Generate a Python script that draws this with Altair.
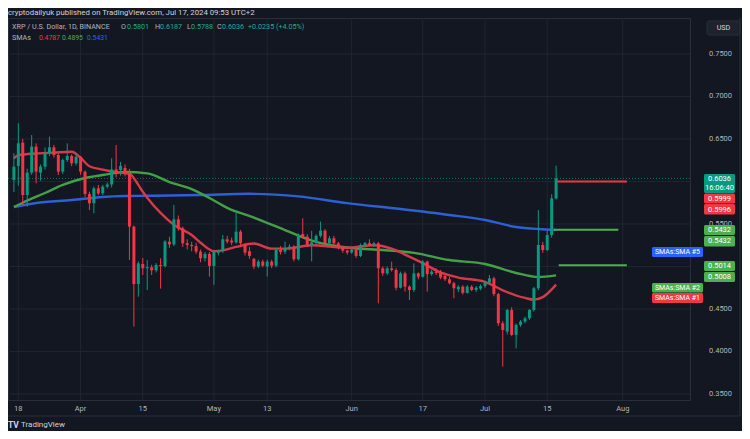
import altair as alt
import pandas as pd

# ---------------- data ----------------
dates = [d.strftime("%Y-%m-%d") for d in pd.date_range("2024-03-17", "2024-07-17", freq="D")]

opens = [0.6018, 0.6183, 0.6457, 0.5841, 0.6104, 0.6410, 0.6104, 0.6175, 0.6332, 0.6402,
         0.6312, 0.6116, 0.6253, 0.6300, 0.6214, 0.6292, 0.6116, 0.5853, 0.5743, 0.5920,
         0.5861, 0.5939, 0.5965, 0.6143, 0.6135, 0.6160, 0.6100, 0.5469, 0.4794, 0.5030,
         0.4979, 0.4992, 0.4955, 0.5018, 0.5005, 0.5293, 0.5260, 0.5555, 0.5449, 0.5273,
         0.5253, 0.5240, 0.5175, 0.5097, 0.5148, 0.5007, 0.5163, 0.5180, 0.5320, 0.5305,
         0.5283, 0.5410, 0.5260, 0.5180, 0.5090, 0.5000, 0.5058, 0.5000, 0.5058, 0.5010,
         0.5195, 0.5175, 0.5214, 0.5234, 0.5085, 0.5381, 0.5351, 0.5253, 0.5283, 0.5361,
         0.5422, 0.5273, 0.5332, 0.5273, 0.5226, 0.5187, 0.5165, 0.5200, 0.5124, 0.5253,
         0.5275, 0.5255, 0.5273, 0.4979, 0.4920, 0.4978, 0.4959, 0.4750, 0.4919, 0.4763,
         0.4723, 0.4919, 0.4880, 0.5057, 0.4910, 0.4940, 0.4925, 0.4889, 0.4850, 0.4803,
         0.4731, 0.4763, 0.4690, 0.4763, 0.4724, 0.4740, 0.4770, 0.4810, 0.4861, 0.4675,
         0.4332, 0.4234, 0.4489, 0.4195, 0.4313, 0.4352, 0.4391, 0.4489, 0.4744, 0.5253,
         0.5194, 0.5370, 0.5801]

highs = [0.6335, 0.6685, 0.6500, 0.6150, 0.6547, 0.6449, 0.6200, 0.6400, 0.6528, 0.6430,
         0.6330, 0.6270, 0.6449, 0.6320, 0.6320, 0.6300, 0.6130, 0.5880, 0.5940, 0.5960,
         0.5960, 0.5990, 0.6273, 0.6430, 0.6230, 0.6200, 0.6150, 0.5480, 0.5060, 0.5100,
         0.5077, 0.5020, 0.5040, 0.5097, 0.5310, 0.5350, 0.5724, 0.5600, 0.5470, 0.5320,
         0.5290, 0.5280, 0.5200, 0.5170, 0.5170, 0.5190, 0.5200, 0.5370, 0.5360, 0.5340,
         0.5665, 0.5430, 0.5270, 0.5230, 0.5100, 0.5080, 0.5080, 0.5080, 0.5080, 0.5220,
         0.5240, 0.5293, 0.5260, 0.5250, 0.5390, 0.5567, 0.5380, 0.5420, 0.5380, 0.5528,
         0.5440, 0.5360, 0.5360, 0.5290, 0.5240, 0.5200, 0.5220, 0.5215, 0.5270, 0.5290,
         0.5320, 0.5290, 0.5290, 0.5000, 0.5000, 0.5057, 0.4980, 0.4940, 0.4940, 0.4780,
         0.5037, 0.4930, 0.5076, 0.5070, 0.4960, 0.4980, 0.4959, 0.4900, 0.4880, 0.4820,
         0.4780, 0.4780, 0.4780, 0.4780, 0.4770, 0.4790, 0.4830, 0.4900, 0.4880, 0.4690,
         0.4360, 0.4500, 0.4520, 0.4330, 0.4370, 0.4410, 0.4500, 0.4760, 0.5665, 0.5290,
         0.5420, 0.5850, 0.6187]

lows = [0.5876, 0.5950, 0.5724, 0.5704, 0.6080, 0.5979, 0.6010, 0.6140, 0.6300, 0.6280,
        0.6076, 0.6090, 0.6230, 0.6180, 0.6190, 0.6080, 0.5820, 0.5665, 0.5626, 0.5840,
        0.5840, 0.5920, 0.5930, 0.6050, 0.6070, 0.6060, 0.5076, 0.4292, 0.4645, 0.4900,
        0.4724, 0.4900, 0.4930, 0.4740, 0.4990, 0.5220, 0.5240, 0.5420, 0.5230, 0.5200,
        0.5180, 0.5150, 0.5050, 0.5060, 0.4881, 0.4783, 0.5130, 0.5160, 0.5270, 0.5250,
        0.5270, 0.5240, 0.5130, 0.5090, 0.4970, 0.4980, 0.4990, 0.4881, 0.4980, 0.4990,
        0.5140, 0.5150, 0.5190, 0.5060, 0.5070, 0.5330, 0.5230, 0.5060, 0.5260, 0.5340,
        0.5250, 0.5250, 0.5250, 0.5200, 0.5160, 0.5140, 0.5150, 0.5100, 0.5110, 0.5230,
        0.5240, 0.5230, 0.4567, 0.4890, 0.4900, 0.4940, 0.4720, 0.4740, 0.4704, 0.4606,
        0.4700, 0.4850, 0.4870, 0.4704, 0.4890, 0.4900, 0.4850, 0.4830, 0.4790, 0.4626,
        0.4700, 0.4670, 0.4680, 0.4710, 0.4700, 0.4720, 0.4750, 0.4790, 0.4650, 0.4300,
        0.3822, 0.4200, 0.4180, 0.4037, 0.4290, 0.4330, 0.4370, 0.4470, 0.4720, 0.5160,
        0.5180, 0.5340, 0.5788]

closes = [0.6175, 0.6449, 0.5841, 0.6104, 0.6410, 0.6116, 0.6175, 0.6332, 0.6402, 0.6312,
          0.6116, 0.6253, 0.6300, 0.6214, 0.6292, 0.6116, 0.5853, 0.5743, 0.5920, 0.5861,
          0.5939, 0.5965, 0.6143, 0.6100, 0.6183, 0.6090, 0.5469, 0.4794, 0.5037, 0.4979,
          0.4992, 0.4955, 0.5018, 0.5005, 0.5293, 0.5260, 0.5555, 0.5449, 0.5273, 0.5253,
          0.5240, 0.5175, 0.5097, 0.5148, 0.5007, 0.5175, 0.5180, 0.5320, 0.5293, 0.5283,
          0.5410, 0.5273, 0.5163, 0.5124, 0.4999, 0.5058, 0.5010, 0.5058, 0.5010, 0.5195,
          0.5172, 0.5214, 0.5234, 0.5085, 0.5371, 0.5351, 0.5253, 0.5283, 0.5361, 0.5422,
          0.5273, 0.5332, 0.5273, 0.5226, 0.5187, 0.5165, 0.5200, 0.5124, 0.5253, 0.5275,
          0.5255, 0.5273, 0.4979, 0.4920, 0.4978, 0.4959, 0.4750, 0.4919, 0.4763, 0.4723,
          0.4919, 0.4880, 0.5057, 0.4910, 0.4940, 0.4925, 0.4870, 0.4850, 0.4803, 0.4744,
          0.4763, 0.4690, 0.4763, 0.4724, 0.4750, 0.4770, 0.4810, 0.4861, 0.4675, 0.4332,
          0.4254, 0.4489, 0.4195, 0.4313, 0.4352, 0.4391, 0.4489, 0.4744, 0.5253, 0.5194,
          0.5370, 0.5801, 0.6036]

sma1_dates = ["2024-03-17", "2024-03-18", "2024-03-22", "2024-03-26", "2024-03-30", "2024-04-01",
              "2024-04-03", "2024-04-06", "2024-04-09", "2024-04-12", "2024-04-14", "2024-04-15",
              "2024-04-16", "2024-04-19", "2024-04-22", "2024-04-26", "2024-04-28", "2024-05-01",
              "2024-05-03", "2024-05-06", "2024-05-10", "2024-05-14", "2024-05-17", "2024-05-23",
              "2024-05-31", "2024-06-06", "2024-06-10", "2024-06-13", "2024-06-17", "2024-06-21",
              "2024-06-25", "2024-07-01", "2024-07-05", "2024-07-10", "2024-07-12", "2024-07-14",
              "2024-07-17"]
sma1_vals = [0.627, 0.631, 0.633, 0.634, 0.635, 0.628, 0.618, 0.614, 0.611, 0.609, 0.596, 0.588,
             0.581, 0.563, 0.549, 0.537, 0.528, 0.518, 0.519, 0.523, 0.527, 0.521, 0.521, 0.525,
             0.522, 0.525, 0.521, 0.514, 0.504, 0.493, 0.487, 0.482, 0.472, 0.463, 0.461, 0.464,
             0.4787]

sma2_dates = ["2024-03-17", "2024-03-19", "2024-03-24", "2024-03-28", "2024-04-02", "2024-04-06",
              "2024-04-11", "2024-04-16", "2024-04-21", "2024-04-26", "2024-04-30", "2024-05-04",
              "2024-05-10", "2024-05-17", "2024-05-24", "2024-06-01", "2024-06-08", "2024-06-15",
              "2024-06-23", "2024-07-01", "2024-07-08", "2024-07-13", "2024-07-17"]
sma2_vals = [0.570, 0.575, 0.5865, 0.5959, 0.6041, 0.6076, 0.6112, 0.6095, 0.5994, 0.5910, 0.5806,
             0.5690, 0.5575, 0.5429, 0.5290, 0.5218, 0.5194, 0.5160, 0.5076, 0.5029, 0.4924,
             0.4876, 0.4895]

sma5_dates = ["2024-03-17", "2024-03-22", "2024-03-30", "2024-04-06", "2024-04-11", "2024-04-16",
              "2024-04-28", "2024-05-09", "2024-05-20", "2024-05-31", "2024-06-12", "2024-06-23",
              "2024-07-01", "2024-07-08", "2024-07-13", "2024-07-17"]
sma5_vals = [0.570, 0.5747, 0.5782, 0.5818, 0.5829, 0.5832, 0.5841, 0.5855, 0.5825, 0.5745,
             0.5676, 0.5606, 0.5547, 0.5465, 0.5441, 0.5431]

# horizontal projection lines at the right
proj_start = ["2024-07-17T05:00:00Z", "2024-07-16T12:00:00Z", "2024-07-17T14:00:00Z"]
proj_end = ["2024-08-01T22:00:00Z", "2024-07-31T00:00:00Z", "2024-08-01T22:00:00Z"]
proj_level = [0.5999, 0.5432, 0.5014]
proj_kind = ["r", "g", "g"]

last_price = 0.6036

# axes
y_grid_vals = [0.35, 0.40, 0.45, 0.50, 0.55, 0.60, 0.65, 0.70, 0.75]
y_label_vals = [0.35, 0.40, 0.45, 0.55, 0.65, 0.70, 0.75]
x_tick_dates = ["2024-03-18", "2024-04-01", "2024-04-15", "2024-05-01", "2024-05-13",
                "2024-06-01", "2024-06-17", "2024-07-01", "2024-07-15", "2024-08-01"]
x_tick_labels = ["18", "Apr", "15", "May", "13", "Jun", "17", "Jul", "15", "Aug"]

# ---------------- styling ----------------
FONT = "Roboto"
BG = "#131722"
GRID = "#212531"
BORDER = "#2a2e39"
UP = "#089981"
DOWN = "#f23645"
C_SMA1 = "#d7394b"
C_SMA2 = "#43a047"
C_SMA5 = "#2f5fd8"
TXT = "#b2b5be"
LEG_UP = "#22ab94"
BADGE_G = "#4caf50"

W, H = 682, 382

df = pd.DataFrame({"date": dates, "open": opens, "high": highs, "low": lows, "close": closes})
df["dir"] = ["up" if c >= o else "down" for o, c in zip(opens, closes)]

xs = alt.Scale(type="utc", domain=[
    alt.DateTime(year=2024, month=3, date=16, hours=19, minutes=12, utc=True),
    alt.DateTime(year=2024, month=8, date=15, utc=True)])
ys = alt.Scale(domain=[0.34294, 0.79235], nice=False, zero=False)


def X(f):
    return alt.X(f, scale=xs, axis=None)


def Y(f):
    return alt.Y(f, scale=ys, axis=None)


# grid + axis labels drawn through the scales
ygrid = alt.Chart(pd.DataFrame({"v": y_grid_vals})).mark_rule(color=GRID, strokeWidth=1).encode(
    y=Y("v:Q"), x=alt.value(0), x2=alt.value(W))
xgrid = alt.Chart(pd.DataFrame({"d": x_tick_dates})).mark_rule(color=GRID, strokeWidth=1).encode(
    x=X("d:T"), y=alt.value(0), y2=alt.value(H))
ylabels = alt.Chart(pd.DataFrame({"v": y_label_vals})).mark_text(
    align="left", baseline="middle", font=FONT, fontSize=7.5, color=TXT).encode(
    y=Y("v:Q"), x=alt.value(W + 19), text=alt.Text("v:Q", format=".4f"))
xlabels = alt.Chart(pd.DataFrame({"d": x_tick_dates, "t": x_tick_labels})).mark_text(
    align="center", baseline="middle", font=FONT, fontSize=7.5, color=TXT).encode(
    x=X("d:T"), y=alt.value(H + 8.5), text="t:N")

color = alt.Color("dir:N", scale=alt.Scale(domain=["up", "down"], range=[UP, DOWN]), legend=None)

base = alt.Chart(df)
wicks = base.mark_rule(strokeWidth=1).encode(x=X("date:T"), y=Y("low:Q"), y2="high:Q", color=color)
bodies = base.mark_bar(size=3).encode(x=X("date:T"), y=Y("open:Q"), y2="close:Q", color=color)


def sma_layer(ds, vs, col):
    d = pd.DataFrame({"date": ds, "v": vs})
    return alt.Chart(d).mark_line(color=col, strokeWidth=2.4, interpolate="monotone").encode(
        x=X("date:T"), y=Y("v:Q"))


sma5 = sma_layer(sma5_dates, sma5_vals, C_SMA5)
sma2 = sma_layer(sma2_dates, sma2_vals, C_SMA2)
sma1 = sma_layer(sma1_dates, sma1_vals, C_SMA1)

proj_df = pd.DataFrame({"s": proj_start, "e": proj_end, "v": proj_level, "k": proj_kind})
proj_r = alt.Chart(proj_df).transform_filter("datum.k == 'r'").mark_rule(strokeWidth=2, color=DOWN).encode(
    x=X("s:T"), x2="e:T", y=Y("v:Q"))
proj_g = alt.Chart(proj_df).transform_filter("datum.k == 'g'").mark_rule(strokeWidth=2, color=BADGE_G).encode(
    x=X("s:T"), x2="e:T", y=Y("v:Q"))

price_line = alt.Chart(pd.DataFrame({"v": [last_price]})).mark_rule(
    strokeWidth=1, strokeDash=[1, 2], color=UP, opacity=0.7).encode(
    y=Y("v:Q"), x=alt.value(0), x2=alt.value(W))


def one():
    return pd.DataFrame({"a": [0]})


def txt(s, x, y, col, size=7.5, align="left", weight="normal"):
    return alt.Chart(pd.DataFrame({"t": [s]})).mark_text(
        align=align, baseline="middle", font=FONT, fontSize=size, color=col, fontWeight=weight
    ).encode(x=alt.value(x), y=alt.value(y), text="t:N")


def box(x1, x2, y1, y2, fill, stroke=None):
    kw = dict(color=fill, cornerRadius=1.5)
    if stroke:
        kw.update(stroke=stroke, strokeWidth=1)
    return alt.Chart(one()).mark_rect(**kw).encode(
        x=alt.value(x1), x2=alt.value(x2), y=alt.value(y1), y2=alt.value(y2))


def rule(x1, x2, y1, y2, col):
    return alt.Chart(one()).mark_rule(color=col, strokeWidth=1).encode(
        x=alt.value(x1), x2=alt.value(x2), y=alt.value(y1), y2=alt.value(y2))


LS = 7.2
deco = [
    rule(W + 50, W + 50, 0, 398, BORDER),
    rule(0, W + 50, 398, 398, BORDER),
    # header
    txt("cryptodailyuk published on TradingView.com, Jul 17, 2024 09:53 UTC+2", 0, -5, "#d1d4dc", 7.8),
    # legend
    txt("XRP / U.S. Dollar, 1D, BINANCE", 4, 9, TXT, LS),
    txt("O", 113, 9, TXT, LS), txt("0.5801", 119, 9, LEG_UP, LS),
    txt("H", 147, 9, TXT, LS), txt("0.6187", 152, 9, LEG_UP, LS),
    txt("L", 179, 9, TXT, LS), txt("0.5788", 183, 9, LEG_UP, LS),
    txt("C", 209, 9, TXT, LS), txt("0.6036", 214, 9, LEG_UP, LS),
    txt("+0.0235 (+4.05%)", 240, 9, LEG_UP, LS),
    txt("SMAs", 4, 20, TXT, LS),
    txt("0.4787", 31, 20, DOWN, 6.8), txt("0.4895", 54, 20, BADGE_G, 6.8), txt("0.5431", 79, 20, "#2962ff", 6.8),
    # USD box
    box(699, 732, 3, 17, "#1e222d", BORDER), txt("USD", 715.5, 10, "#d1d4dc", 7.2, "center"),
    # price badges
    box(696, 727, 156, 175, UP),
    txt("0.6036", 711.5, 161.3, "#ffffff", 7.5, "center"),
    txt("16:06:40", 711.5, 170, "#ffffff", 7.5, "center"),
    box(696, 727, 175.5, 185.5, DOWN), txt("0.5999", 711.5, 180.7, "#ffffff", 7.5, "center"),
    box(696, 727, 186, 196.5, DOWN), txt("0.5996", 711.5, 191.5, "#ffffff", 7.5, "center"),
    box(696, 727, 207, 217, BADGE_G), txt("0.5432", 711.5, 212.2, "#ffffff", 7.5, "center"),
    box(696, 727, 218, 228.5, BADGE_G), txt("0.5432", 711.5, 223.4, "#ffffff", 7.5, "center"),
    box(696, 727, 243, 253, BADGE_G), txt("0.5014", 711.5, 248.2, "#ffffff", 7.5, "center"),
    box(696, 727, 254, 264, BADGE_G), txt("0.5008", 711.5, 259.2, "#ffffff", 7.5, "center"),
    box(644, 695, 229, 239, "#2962ff"), txt("SMAs:SMA #5", 669.5, 234.2, "#ffffff", 7.0, "center"),
    box(644, 695, 265, 274.5, BADGE_G), txt("SMAs:SMA #2", 669.5, 269.9, "#ffffff", 7.0, "center"),
    box(644, 695, 275, 285, DOWN), txt("SMAs:SMA #1", 669.5, 280.2, "#ffffff", 7.0, "center"),
    # footer
    txt("TV", 0, 407, "#d1d4dc", 8.5, "left", "bold"),
    txt("TradingView", 13, 407, "#d1d4dc", 8),
]

chart = alt.layer(
    ygrid, xgrid, ylabels, xlabels, price_line, sma5, sma2, sma1, wicks, bodies, proj_r, proj_g, *deco
).properties(
    width=W, height=H,
    padding={"left": 0, "top": 10, "right": 52, "bottom": 31},
    autosize=alt.AutoSizeParams(type="none"),
).configure(background=BG, font=FONT).configure_view(stroke=BORDER, strokeWidth=1)

chart.save("out.html", embed_options={"renderer": "svg", "actions": False})
